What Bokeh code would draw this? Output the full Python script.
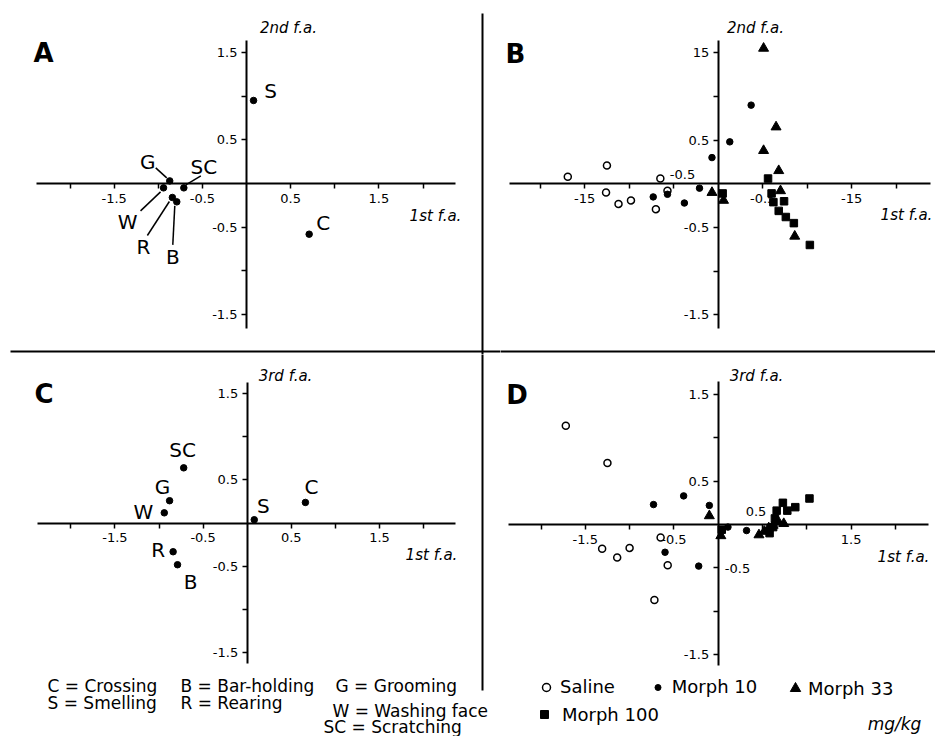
from bokeh.plotting import figure
from bokeh.models import (LinearAxis, FixedTicker, Range1d, Label, BoxAnnotation,
                          ColumnDataSource, Legend, LegendItem, Grid)
from bokeh.layouts import row, column
from bokeh.embed import file_html
from bokeh.resources import INLINE
from bokeh.core.properties import value

# ---------------------------------------------------------------- data
behaviour_codes = ["C", "S", "G", "B", "R", "W", "SC"]
behaviour_key = ["C = Crossing", "B = Bar-holding", "G = Grooming",
                 "S = Smelling", "R = Rearing", "W = Washing face", "SC = Scratching"]

# panel A : 1st f.a. vs 2nd f.a. (behaviours)
a_fa1 = [0.71, 0.08, -0.87, -0.79, -0.84, -0.94, -0.71]
a_fa2 = [-0.58, 0.95, 0.03, -0.21, -0.16, -0.05, -0.05]
# panel C : 1st f.a. vs 3rd f.a. (behaviours)
c_fa1 = [0.66, 0.08, -0.88, -0.79, -0.84, -0.94, -0.72]
c_fa3 = [0.24, 0.04, 0.26, -0.48, -0.33, 0.12, 0.64]

group_names = ["Saline", "Morph 10", "Morph 33", "Morph 100"]
# panel B : 1st f.a. vs 2nd f.a. (animals)
b_saline_fa1 = [-1.69, -1.25, -1.26, -1.12, -0.98, -0.70, -0.65, -0.57]
b_saline_fa2 = [0.08, 0.21, -0.10, -0.23, -0.19, -0.29, 0.06, -0.08]
b_m10_fa1 = [-0.73, -0.57, -0.38, -0.21, -0.07, 0.13, 0.37]
b_m10_fa2 = [-0.15, -0.12, -0.22, -0.05, 0.30, 0.48, 0.90]
b_m33_fa1 = [0.51, 0.65, 0.51, 0.68, 0.70, -0.07, 0.06, 0.86]
b_m33_fa2 = [1.55, 0.65, 0.38, 0.15, -0.08, -0.10, -0.19, -0.60]
b_m100_fa1 = [0.05, 0.56, 0.60, 0.62, 0.74, 0.68, 0.76, 0.85, 1.03]
b_m100_fa2 = [-0.11, 0.06, -0.11, -0.21, -0.20, -0.31, -0.38, -0.45, -0.70]
# panel D : 1st f.a. vs 3rd f.a. (animals)
d_saline_fa1 = [-1.72, -1.25, -1.31, -1.14, -1.00, -0.65, -0.57, -0.72]
d_saline_fa3 = [1.14, 0.71, -0.28, -0.38, -0.27, -0.15, -0.47, -0.87]
d_m10_fa1 = [-0.73, -0.39, -0.10, -0.60, -0.22, 0.11, 0.32]
d_m10_fa3 = [0.23, 0.33, 0.22, -0.32, -0.48, -0.03, -0.07]
d_m33_fa1 = [-0.10, 0.03, 0.46, 0.52, 0.57, 0.62, 0.68, 0.74]
d_m33_fa3 = [0.10, -0.13, -0.12, -0.08, -0.04, -0.01, 0.03, 0.01]
d_m100_fa1 = [0.04, 0.58, 0.62, 0.64, 0.66, 0.73, 0.78, 0.87, 1.03]
d_m100_fa3 = [-0.06, -0.10, -0.03, 0.07, 0.16, 0.25, 0.16, 0.20, 0.30]

# ticks
x_labeled_ticks = [-1.5, -0.5, 0.5, 1.5]
x_plain_ticks = [-2.0, -1.0, 1.0, 2.0]
y_labeled_ticks = [-1.5, -0.5, 0.5, 1.5]
y_plain_ticks = [-1.0, 1.0]
a_x_tick_labels = ["-1.5", "-0.5", "0.5", "1.5"]
a_y_tick_labels = ["-1.5", "-0.5", "0.5", "1.5"]
b_x_tick_labels = ["-15", "-0.5", "-0.5", "-15"]
b_y_tick_labels = ["-1.5", "-0.5", "0.5", "15"]
c_x_tick_labels = ["-1.5", "-0.5", "0.5", "1.5"]
c_y_tick_labels = ["-1.5", "-0.5", "0.5", "1.5"]
d_x_tick_labels = ["-1.5", "-0.5", "0.5", "1.5"]
d_y_tick_labels = ["-1.5", "-0.5", "0.5", "1.5"]

# ---------------------------------------------------------------- layout (picture pixels)
FONT = "DejaVu Sans"
TICK_SIZE = 13
GEOM = {
    "A": dict(x0=0, y0=0, w=500, h=354, ox=246.0, oy=183.0, sx=88.25, sy=87.4,
              xb=(-2.38, 2.37), yb=(-1.66, 1.64)),
    "B": dict(x0=500, y0=0, w=435, h=354, ox=717.7, oy=183.3, sx=89.0, sy=87.4,
              xb=(-2.34, 2.385), yb=(-1.656, 1.64)),
    "C": dict(x0=0, y0=354, w=500, h=382, ox=246.7, oy=522.7, sx=88.2, sy=86.5,
              xb=(-2.38, 2.36), yb=(-1.625, 1.63)),
    "D": dict(x0=500, y0=354, w=435, h=382, ox=717.7, oy=524.0, sx=88.6, sy=86.7,
              xb=(-2.363, 2.377), yb=(-1.626, 1.653)),
}


def to_data(g, px, py):
    return (px - g["ox"]) / g["sx"], (g["oy"] - py) / g["sy"]


def make_panel(g):
    xs = (g["x0"] - g["ox"]) / g["sx"]
    xe = (g["x0"] + g["w"] - g["ox"]) / g["sx"]
    ye = (g["oy"] - g["y0"]) / g["sy"]
    ys = (g["oy"] - g["y0"] - g["h"]) / g["sy"]
    p = figure(width=g["w"], height=g["h"], x_range=Range1d(xs, xe), y_range=Range1d(ys, ye),
               output_backend="svg", toolbar_location=None,
               x_axis_location=None, y_axis_location=None, min_border=0,
               outline_line_color=None, background_fill_color="white",
               border_fill_color="white")
    for gr in p.select(type=Grid):
        gr.visible = False
    return p


def axis_ticker(labeled, plain, labels, moved):
    major = [t for i, t in enumerate(labeled) if i not in moved]
    minor = list(plain) + [t for i, t in enumerate(labeled) if i in moved]
    ov = {}
    for i, t in enumerate(labeled):
        if i not in moved:
            ov[float(t)] = labels[i]
            ov[str(float(t))] = labels[i]
    return FixedTicker(ticks=major, minor_ticks=minor), ov


def add_axes(p, g, xlabels, ylabels, x_moved=(), y_moved=()):
    common = dict(fixed_location=0, axis_line_width=2, axis_line_color="black",
                  major_tick_line_width=1.5, major_tick_line_color="black",
                  major_tick_in=0, major_tick_out=5,
                  minor_tick_line_width=1.5, minor_tick_line_color="black",
                  minor_tick_in=0, minor_tick_out=5,
                  major_label_text_font=FONT, major_label_text_font_size=f"{TICK_SIZE}px",
                  major_label_text_color="black")
    tx, ox = axis_ticker(x_labeled_ticks, x_plain_ticks, xlabels, x_moved)
    xa = LinearAxis(bounds=g["xb"], ticker=tx, major_label_overrides=ox,
                    major_label_standoff=5, **common)
    p.add_layout(xa, "below")
    ty, oy = axis_ticker(y_labeled_ticks, y_plain_ticks, ylabels, y_moved)
    ya = LinearAxis(bounds=g["yb"], ticker=ty, major_label_overrides=oy,
                    major_label_standoff=4, **common)
    p.add_layout(ya, "left")


def add_label(p, g, px, py, text, size, style="normal", align="center"):
    x, y = to_data(g, px, py)
    p.add_layout(Label(x=x, y=y, text=text, text_font=FONT, text_font_size=f"{size}px",
                       text_font_style=style, text_align=align, text_baseline="middle",
                       text_color="black"))


def add_bar(p, g, left, right, top, bottom):
    l, t = to_data(g, left, top)
    r, b = to_data(g, right, bottom)
    p.add_layout(BoxAnnotation(left=l, right=r, top=t, bottom=b, fill_color="black",
                               fill_alpha=1.0, line_color=None, level="overlay"))


# ---------------------------------------------------------------- behaviour panels
def behaviour_panel(g, fx, fy, offsets, leaders, xlabels, ylabels):
    p = make_panel(g)
    add_axes(p, g, xlabels, ylabels)
    dx = [offsets[c][0] for c in behaviour_codes]
    dy = [offsets[c][1] for c in behaviour_codes]
    src = ColumnDataSource(dict(x=fx, y=fy, lab=behaviour_codes, dx=dx, dy=dy))
    p.scatter("x", "y", source=src, marker="circle", size=6.5, color="black")
    p.text(x="x", y="y", text="lab", source=src, x_offset="dx", y_offset="dy",
           text_align="center", text_baseline="middle", text_font=value(FONT),
           text_font_size=value("20px"), text_color="black")
    if leaders:
        x0, y0, x1, y1 = [], [], [], []
        for c, xv, yv in zip(behaviour_codes, fx, fy):
            if c in leaders:
                (a1, b1), (a2, b2) = leaders[c]
                x0.append(xv + a1 / g["sx"]); y0.append(yv - b1 / g["sy"])
                x1.append(xv + a2 / g["sx"]); y1.append(yv - b2 / g["sy"])
        p.segment(x0=x0, y0=y0, x1=x1, y1=y1, line_width=1.5, line_color="black")
    return p


a_offsets = {"C": (14, -11), "S": (17, -9), "G": (-22, -19), "B": (-4, 55),
             "R": (-29, 50), "W": (-36, 34), "SC": (20, -21)}
a_leaders = {"G": ((-3, -3), (-14, -13)), "SC": ((2, -3), (17, -12)),
             "W": ((-3, 4), (-23, 23)), "R": ((-3, 4), (-25, 38)),
             "B": ((-2, 4), (-4, 43))}
c_offsets = {"C": (6, -15), "S": (9, -14), "G": (-7, -14), "B": (13, 17),
             "R": (-15, -2), "W": (-21, -1), "SC": (-1, -18)}

gA, gB, gC, gD = GEOM["A"], GEOM["B"], GEOM["C"], GEOM["D"]

pA = behaviour_panel(gA, a_fa1, a_fa2, a_offsets, a_leaders, a_x_tick_labels, a_y_tick_labels)
add_label(pA, gA, 43, 52.5, "A", 26, "bold")
add_label(pA, gA, 288, 27, "2nd f.a.", 15, "italic")
add_label(pA, gA, 435, 215, "1st f.a.", 15, "italic")
add_bar(pA, gA, 10, 505, 350, 352)     # horizontal separator
add_bar(pA, gA, 481, 483, 13, 360)     # vertical separator

pC = behaviour_panel(gC, c_fa1, c_fa3, c_offsets, None, c_x_tick_labels, c_y_tick_labels)
add_label(pC, gC, 43.5, 393.5, "C", 26, "bold")
add_label(pC, gC, 285, 375, "3rd f.a.", 15, "italic")
add_label(pC, gC, 431, 554, "1st f.a.", 15, "italic")
add_bar(pC, gC, 481, 483, 350, 690)
key_pos = [(47, 685), (180, 685), (335, 685), (47, 702), (180, 702), (332, 710), (323, 726)]
for txt, (kx, ky) in zip(behaviour_key, key_pos):
    add_label(pC, gC, kx, ky, txt, 17, align="left")


# ---------------------------------------------------------------- animal panels
def group_panel(g, series, xlabels, ylabels, x_moved=(), y_moved=()):
    p = make_panel(g)
    add_axes(p, g, xlabels, ylabels, x_moved, y_moved)
    styles = [dict(marker="circle", size=7, fill_color="white", line_color="black", line_width=1.5),
              dict(marker="circle", size=6.5, color="black"),
              dict(marker="triangle", size=10, color="black"),
              dict(marker="square", size=7.5, color="black")]
    rs = []
    for (xs, ys), st in zip(series, styles):
        rs.append(p.scatter(x=xs, y=ys, **st))
    return p, rs


pB, _ = group_panel(gB, [(b_saline_fa1, b_saline_fa2), (b_m10_fa1, b_m10_fa2),
                         (b_m33_fa1, b_m33_fa2), (b_m100_fa1, b_m100_fa2)],
                    b_x_tick_labels, b_y_tick_labels, x_moved=(1,))
add_label(pB, gB, 515, 53, "B", 26, "bold")
add_label(pB, gB, 755, 27, "2nd f.a.", 15, "italic")
add_label(pB, gB, 906, 214, "1st f.a.", 15, "italic")
add_label(pB, gB, 682, 174, b_x_tick_labels[1], TICK_SIZE)
add_bar(pB, gB, 490, 940, 350, 352)
add_bar(pB, gB, 481, 483, 13, 360)

pD, rD = group_panel(gD, [(d_saline_fa1, d_saline_fa3), (d_m10_fa1, d_m10_fa3),
                          (d_m33_fa1, d_m33_fa3), (d_m100_fa1, d_m100_fa3)],
                     d_x_tick_labels, d_y_tick_labels, x_moved=(2,), y_moved=(1,))
add_label(pD, gD, 516.5, 394, "D", 26, "bold")
add_label(pD, gD, 756, 375, "3rd f.a.", 15, "italic")
add_label(pD, gD, 903, 556, "1st f.a.", 15, "italic")
add_label(pD, gD, 755.5, 511, d_x_tick_labels[2], TICK_SIZE)
add_label(pD, gD, 737, 568, d_y_tick_labels[1], TICK_SIZE)
add_label(pD, gD, 894, 723, "mg/kg", 17, "italic")

# key: (glyph box px, glyph centre x, centre y, text start x) in picture pixels
legend_layout = [(20, 546, 686.7, 560), (15, 657.3, 686.7, 671.7),
                 (26, 795, 688, 808), (20, 544, 714, 561.7)]
for name, r, (G, cx, cy, ts) in zip(group_names, rD, legend_layout):
    gh = max(G, 22)
    lx = cx - G / 2 - gD["x0"]
    ly = (gD["y0"] + gD["h"]) - (cy + gh / 2)
    leg = Legend(items=[LegendItem(label=value(name), renderers=[r])],
                 location=(lx, ly), orientation="vertical",
                 glyph_width=G, glyph_height=gh, label_height=gh,
                 label_standoff=int(round(ts - (cx + G / 2))),
                 padding=0, margin=0, spacing=0, border_line_color=None,
                 background_fill_alpha=0, label_text_font=FONT,
                 label_text_font_size="18px", label_text_color="black")
    pD.add_layout(leg, "center")

layout = column(row(pA, pB), row(pC, pD))
open("out.html", "w").write(file_html(layout, INLINE))
